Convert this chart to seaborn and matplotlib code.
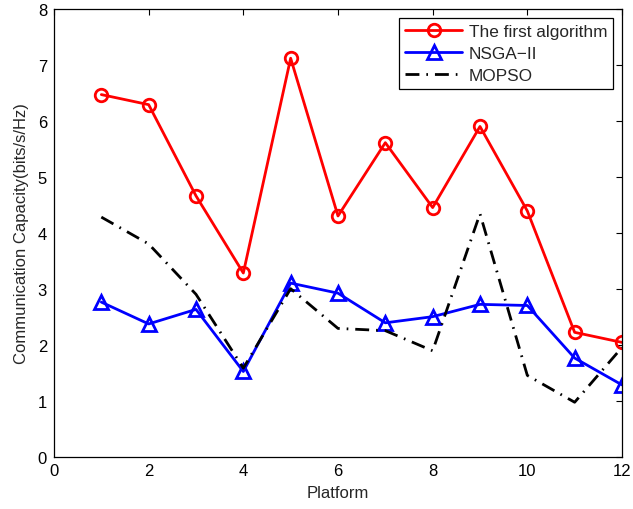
import matplotlib
matplotlib.use("Agg")
import matplotlib.pyplot as plt
import seaborn as sns
import pandas as pd

platforms = [1, 2, 3, 4, 5, 6, 7, 8, 9, 10, 11, 12]
first_alg = [6.47, 6.29, 4.66, 3.28, 7.12, 4.30, 5.61, 4.45, 5.90, 4.39, 2.22, 2.04]
nsga2 = [2.76, 2.37, 2.63, 1.52, 3.10, 2.92, 2.39, 2.50, 2.72, 2.70, 1.76, 1.28]
mopso = [4.28, 3.80, 2.90, 1.58, 3.00, 2.29, 2.25, 1.89, 4.34, 1.45, 0.97, 1.95]
x_ticks = [0, 2, 4, 6, 8, 10, 12]
y_ticks = [0, 1, 2, 3, 4, 5, 6, 7, 8]

sns.set_style("white")
plt.rcParams['font.family'] = ['Liberation Sans', 'DejaVu Sans']

fig = plt.figure(figsize=(6.33, 5.10), dpi=100)
ax = fig.add_axes([0.0853, 0.1029, 0.8973, 0.8775])

df1 = pd.DataFrame({"Platform": platforms, "value": first_alg})
df2 = pd.DataFrame({"Platform": platforms, "value": nsga2})
df3 = pd.DataFrame({"Platform": platforms, "value": mopso})

sns.lineplot(data=df1, x="Platform", y="value", ax=ax, color=(1, 0, 0), lw=2,
             marker="o", markersize=9, markerfacecolor="none", markeredgecolor=(1, 0, 0),
             markeredgewidth=2, label="The first algorithm")
sns.lineplot(data=df2, x="Platform", y="value", ax=ax, color=(0, 0, 1), lw=2,
             marker="^", markersize=10, markerfacecolor="none", markeredgecolor=(0, 0, 1),
             markeredgewidth=2, label="NSGA\u2212II")
sns.lineplot(data=df3, x="Platform", y="value", ax=ax, color="black", lw=2,
             label="MOPSO")
ax.lines[-1].set_dashes([5, 2.5, 0.6, 2.5])

ax.set_xlim(0, 12)
ax.set_ylim(0, 8)
ax.set_xticks(x_ticks)
ax.set_yticks(y_ticks)
ax.tick_params(direction="in", length=4, width=0.8, top=True, right=True,
               labelsize=12, colors="black", pad=5)
for sp in ax.spines.values():
    sp.set_color("black")
    sp.set_linewidth(0.9)
ax.set_xlabel("Platform", fontsize=12, labelpad=5)
ax.set_ylabel("Communication Capacity(bits/s/Hz)", fontsize=12, labelpad=6)

leg = ax.legend(loc="upper right", fontsize=12.4, frameon=True, fancybox=False,
                edgecolor="black", framealpha=1, borderaxespad=0.5,
                handlelength=3.3, labelspacing=0.4, borderpad=0.35, handletextpad=0.4)
leg.get_frame().set_linewidth(0.9)

fig.savefig("out.png", dpi=100)
